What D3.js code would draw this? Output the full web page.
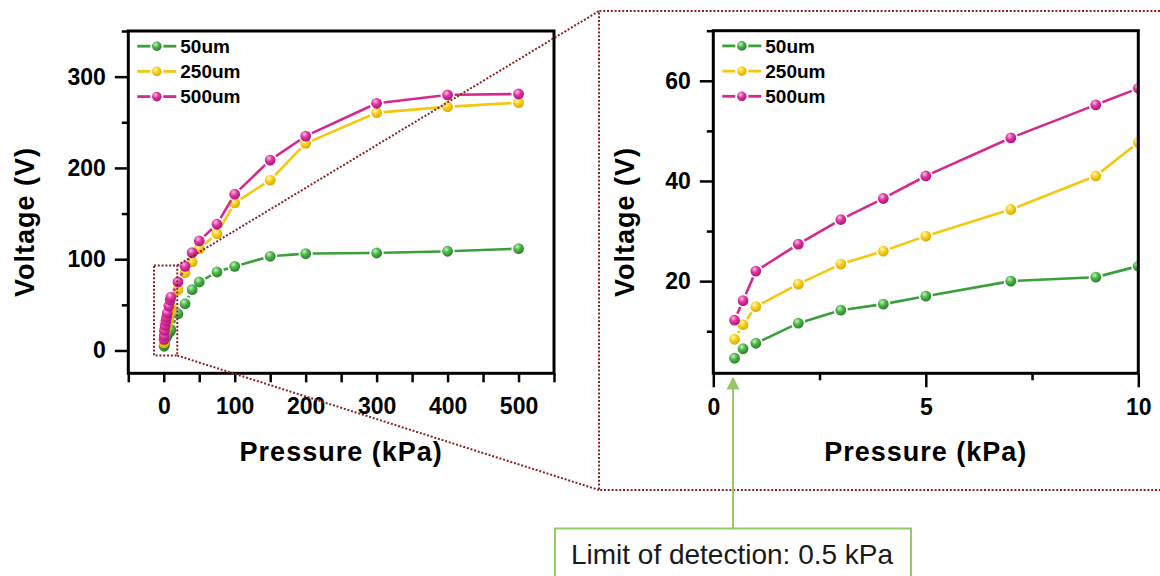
<!DOCTYPE html>
<html>
<head>
<meta charset="utf-8" />
<title>Voltage vs Pressure</title>
<script src="https://d3js.org/d3.v7.min.js"></script>
<style>
    body { margin: 0; background: #fff; }
    svg text { font-family: "Liberation Sans", Arial, sans-serif; }
    .axis text { font-weight: bold; font-size: 23px; fill: #000; }
    .axis line { stroke: #000; stroke-width: 2.5; }
    .axis path { display: none; }
    .title { font-weight: bold; font-size: 27px; letter-spacing: 1px; fill: #000; }
    .legend text { font-weight: bold; font-size: 19px; fill: #000; }
    .zoomline { fill: none; stroke: #8b2323; stroke-width: 2; stroke-dasharray: 2 1.8; }
</style>
</head>
<body>
<svg id="chart"></svg>
<script>

    // pressure (kPa) and measured voltage (V) for each film thickness
    var pressure = [0.5, 0.7, 1, 2, 3, 4, 5, 7, 9, 10, 20, 30, 40, 50, 75, 100, 150, 200, 300, 400, 500]
    var v50 = [4.6, 6.5, 7.6, 11.6, 14.2, 15.4, 17.0, 20.0, 20.8, 23.0, 40.3, 51.2, 66.6, 75.0, 86.0, 92.2, 103.2, 106.1, 106.8, 108.7, 111.6]
    var v250 = [8.4, 11.3, 14.9, 19.4, 23.4, 26.0, 29.0, 34.3, 41.0, 47.7, 66.6, 85.3, 97.0, 111.6, 128.0, 161.7, 186.6, 226.9, 260.5, 267.0, 271.5]
    var v500 = [12.2, 16.1, 22.0, 27.4, 32.3, 36.5, 41.0, 48.6, 55.2, 58.5, 75.0, 92.2, 107.2, 120.0, 138.3, 171.2, 208.6, 234.9, 270.8, 280.0, 281.0]

    var seriesNames = ['50um', '250um', '500um']
    var seriesValues = [v50, v250, v500]
    var lineColors = ['#3c9f3c', '#f2c811', '#d42a8f']
    // sphere shading: highlight, body, rim
    var sphereColors = [
        ['#c9f2c4', '#4cb54a', '#2a7f2a'],
        ['#fff7bf', '#f7d11c', '#d9a900'],
        ['#fbc2e6', '#e2349f', '#a8177a']
    ]

    var leftXTicks = [0, 100, 200, 300, 400, 500]
    var leftXMinor = [-50, 50, 150, 250, 350, 450, 550]
    var leftYTicks = [0, 100, 200, 300]
    var leftYMinor = [50, 150, 250, 350]
    var rightXTicks = [0, 5, 10]
    var rightXMinor = [2.5, 7.5]
    var rightYTicks = [20, 40, 60]
    var rightYMinor = [10, 30, 50, 70]

    var lodPressure = 0.5
    var lodText = 'Limit of detection: 0.5 kPa'

    var W = 1160, H = 576

    var svg = d3.select('#chart')
        .attr('width', W)
        .attr('height', H)

    svg.append('rect').attr('width', W).attr('height', H).attr('fill', '#fff')

    var defs = svg.append('defs')
    sphereColors.forEach(function (c, i) {
        var grad = defs.append('radialGradient')
            .attr('id', 'sphere' + i)
            .attr('cx', '38%').attr('cy', '32%').attr('r', '70%')
        grad.append('stop').attr('offset', '0%').attr('stop-color', c[0])
        grad.append('stop').attr('offset', '45%').attr('stop-color', c[1])
        grad.append('stop').attr('offset', '100%').attr('stop-color', c[2])
    })

    // scales of both panels
    var xL = d3.scaleLinear().domain([-50, 550]).range([128.3, 554])
    var yL = d3.scaleLinear().domain([-25, 350]).range([373.3, 31])
    var xR = d3.scaleLinear().domain([0, 10]).range([713.3, 1138.3])
    var yR = d3.scaleLinear().domain([1.6, 70]).range([373.3, 30.7])

    defs.append('clipPath').attr('id', 'clipR')
        .append('rect')
        .attr('x', xR.range()[0]).attr('y', yR.range()[1])
        .attr('width', xR.range()[1] - xR.range()[0])
        .attr('height', yR.range()[0] - yR.range()[1])

    function drawSeries(g, xs, ys, x, y, idx, r) {
        var pts = xs.map(function (d, i) { return [x(d), y(ys[i])] })
        var gap = r + 1.6
        var segs = []
        for (var i = 1; i < pts.length; i++) {
            var a = pts[i - 1], b = pts[i]
            var dx = b[0] - a[0], dy = b[1] - a[1]
            var len = Math.sqrt(dx * dx + dy * dy)
            if (len <= 2 * gap) continue
            var ux = dx / len, uy = dy / len
            segs.push([a[0] + ux * gap, a[1] + uy * gap, b[0] - ux * gap, b[1] - uy * gap])
        }
        g.selectAll(null).data(segs).enter().append('line')
            .attr('x1', function (d) { return d[0] })
            .attr('y1', function (d) { return d[1] })
            .attr('x2', function (d) { return d[2] })
            .attr('y2', function (d) { return d[3] })
            .attr('stroke', lineColors[idx])
            .attr('stroke-width', 2.6)

        g.selectAll(null).data(pts).enter().append('circle')
            .attr('cx', function (d) { return d[0] })
            .attr('cy', function (d) { return d[1] })
            .attr('r', r)
            .attr('fill', 'url(#sphere' + idx + ')')
    }

    function drawPanel(p) {
        var x = p.x, y = p.y
        var x0 = x.range()[0], x1 = x.range()[1]
        var yb = y.range()[0], yt = y.range()[1]

        var data = svg.append('g')
        if (p.clip) data.attr('clip-path', 'url(#' + p.clip + ')')

        seriesValues.forEach(function (vals, i) {
            var xs = [], ys = []
            pressure.forEach(function (pv, j) {
                if (pv <= p.maxP) { xs.push(pv); ys.push(vals[j]) }
            })
            drawSeries(data, xs, ys, x, y, i, 5.4)
        })

        // axes
        svg.append('g').attr('class', 'axis')
            .attr('transform', 'translate(0,' + yb + ')')
            .call(d3.axisBottom(x).tickValues(p.xMinor).tickSize(p.xMinorLen).tickFormat(''))
        svg.append('g').attr('class', 'axis')
            .attr('transform', 'translate(0,' + yb + ')')
            .call(d3.axisBottom(x).tickValues(p.xTicks).tickSize(p.xMajorLen)
                .tickPadding(p.xPad).tickFormat(d3.format('d')))
        svg.append('g').attr('class', 'axis')
            .attr('transform', 'translate(' + x0 + ',0)')
            .call(d3.axisLeft(y).tickValues(p.yMinor).tickSize(6.5).tickFormat(''))
        svg.append('g').attr('class', 'axis')
            .attr('transform', 'translate(' + x0 + ',0)')
            .call(d3.axisLeft(y).tickValues(p.yTicks).tickSize(13.5)
                .tickPadding(9).tickFormat(d3.format('d')))

        // frame
        svg.append('rect')
            .attr('x', x0).attr('y', yt)
            .attr('width', x1 - x0).attr('height', yb - yt)
            .attr('fill', 'none').attr('stroke', '#000').attr('stroke-width', 3)

        // titles
        svg.append('text').attr('class', 'title')
            .attr('x', (x0 + x1) / 2).attr('y', 460.5)
            .attr('text-anchor', 'middle')
            .text('Pressure (kPa)')
        svg.append('text').attr('class', 'title')
            .attr('transform', 'translate(' + p.yTitleX + ',222) rotate(-90)')
            .attr('text-anchor', 'middle')
            .text('Voltage (V)')

        // legend
        var lg = svg.append('g').attr('class', 'legend')
            .attr('transform', 'translate(' + x0 + ',' + yt + ')')
        seriesNames.forEach(function (name, i) {
            var ry = 15.2 + i * 25.2
            var row = lg.append('g').attr('transform', 'translate(0,' + ry + ')')
            row.append('line').attr('x1', 9).attr('x2', 22).attr('y1', 0).attr('y2', 0)
                .attr('stroke', lineColors[i]).attr('stroke-width', 2.8)
            row.append('line').attr('x1', 35).attr('x2', 48).attr('y1', 0).attr('y2', 0)
                .attr('stroke', lineColors[i]).attr('stroke-width', 2.8)
            row.append('circle').attr('cx', 28.5).attr('cy', 0).attr('r', 4.8)
                .attr('fill', 'url(#sphere' + i + ')')
            row.append('text').attr('x', 52).attr('y', 0).attr('dy', '0.36em').text(name)
        })
    }

    drawPanel({ x: xL, y: yL, maxP: 1000, xTicks: leftXTicks, xMinor: leftXMinor,
        xMajorLen: 9, xMinorLen: 9, xPad: 15, yTicks: leftYTicks, yMinor: leftYMinor, yTitleX: 34 })
    drawPanel({ x: xR, y: yR, maxP: 10, clip: 'clipR', xTicks: rightXTicks, xMinor: rightXMinor,
        xMajorLen: 14, xMinorLen: 7, xPad: 11, yTicks: rightYTicks, yMinor: rightYMinor, yTitleX: 634 })

    // zoom box on the left panel and the guide lines to the right panel
    var bx0 = xL(-13.8), bx1 = xL(19), by0 = yL(93.2), by1 = yL(-5.5)
    svg.append('rect').attr('class', 'zoomline')
        .attr('x', bx0).attr('y', by0).attr('width', bx1 - bx0).attr('height', by1 - by0)

    var bigL = 599, bigT = 11, bigB = 490
    svg.append('line').attr('class', 'zoomline')
        .attr('x1', bx1).attr('y1', by0).attr('x2', bigL).attr('y2', bigT)
    svg.append('line').attr('class', 'zoomline')
        .attr('x1', bx1).attr('y1', by1).attr('x2', bigL).attr('y2', bigB)
    svg.append('path').attr('class', 'zoomline')
        .attr('d', 'M' + W + ',' + bigT + 'H' + bigL + 'V' + bigB + 'H' + W)

    // limit of detection arrow and label box
    var ax = xR(lodPressure) - 1.5
    var green = '#93c966'
    svg.append('line')
        .attr('x1', ax).attr('x2', ax).attr('y1', 388).attr('y2', 529)
        .attr('stroke', green).attr('stroke-width', 2)
    svg.append('path')
        .attr('d', 'M' + ax + ',376.5L' + (ax + 6.5) + ',389.5L' + (ax - 6.5) + ',389.5Z')
        .attr('fill', green)
    svg.append('rect')
        .attr('x', 555).attr('y', 528.5).attr('width', 356).attr('height', 70)
        .attr('fill', '#fff').attr('stroke', green).attr('stroke-width', 2)
    svg.append('text')
        .attr('x', 732).attr('y', 563.5)
        .attr('text-anchor', 'middle')
        .style('font-size', '28px')
        .attr('fill', '#1a1a1a')
        .text(lodText)

</script>
</body>
</html>
